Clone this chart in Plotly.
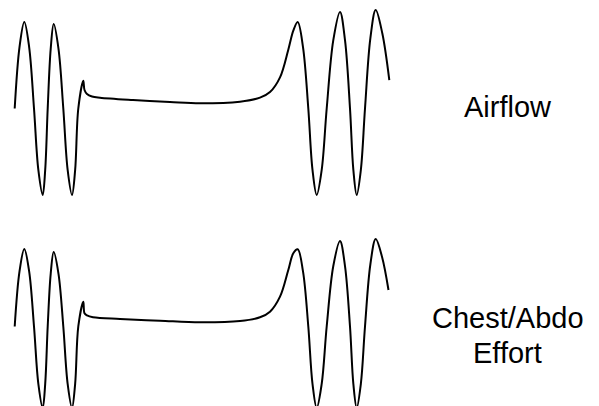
import plotly.graph_objects as go

# Time (s) and normalised signal amplitude
airflow_t = [1.47, 1.95, 2.43, 2.915, 3.4, 3.835, 4.27, 4.52, 4.77, 5.07, 5.37, 5.85, 6.33,
             6.765, 7.2, 7.515, 7.83, 8.33, 8.45, 8.7, 9.2, 10.0, 13.3, 17.0, 20.0, 24.0,
             26.0, 27.0, 28.0, 28.83, 29.33, 29.77, 30.3, 30.83, 31.25, 31.67,
             32.17, 32.67, 33.33, 34.0, 34.5, 35.0, 35.335, 35.67, 36.085, 36.5, 37.035,
             37.57, 38.23, 38.93]
airflow_v = [0.0, 0.71, 1.0, 0.71, 0.0, -0.71, -1.0, -0.71, 0.0, 0.69, 0.977, 0.69, 0.0,
             -0.71, -1.0, -0.71, 0.0, 0.321, 0.214, 0.168, 0.139, 0.125, 0.098, 0.075, 0.06,
             0.079, 0.125, 0.19, 0.36, 0.68, 0.9, 1.0, 0.71, 0.0, -0.71, -1.0,
             -0.71, 0.0, 0.79, 1.116, 0.79, 0.0, -0.71, -1.0, -0.71, 0.0, 0.81, 1.139,
             0.869, 0.329]

effort_t = [1.47, 1.95, 2.43, 2.915, 3.4, 3.835, 4.27, 4.52, 4.77, 5.07, 5.37, 5.85, 6.33,
            6.765, 7.2, 7.515, 7.83, 8.33, 8.45, 8.7, 9.3, 12.0, 16.0, 20.0, 24.0,
            26.0, 27.0, 28.0, 28.83, 29.33, 29.77, 30.3, 30.83, 31.25, 31.67,
            32.17, 32.67, 33.33, 34.0, 34.5, 35.0, 35.335, 35.67, 36.085, 36.5, 37.035,
            37.57, 38.2, 38.85]
effort_v = [0.0, 0.71, 1.0, 0.71, 0.0, -0.74, -1.05, -0.74, 0.0, 0.68, 0.961, 0.68, 0.0,
            -0.74, -1.05, -0.74, 0.0, 0.32, 0.17, 0.142, 0.119, 0.097, 0.075, 0.054, 0.071,
            0.119, 0.191, 0.385, 0.729, 0.945, 0.996, 0.71, 0.0, -0.74, -1.05,
            -0.74, 0.0, 0.78, 1.103, 0.78, 0.0, -0.74, -1.05, -0.74, 0.0, 0.8, 1.129,
            0.9, 0.471]

labels = ["Airflow", "Chest/Abdo", "Effort"]

fig = go.Figure()
line = dict(color="black", width=2, shape="spline", smoothing=1.0)
fig.add_trace(go.Scatter(x=airflow_t, y=airflow_v, mode="lines", line=line,
                         xaxis="x", yaxis="y", hoverinfo="skip"))
fig.add_trace(go.Scatter(x=effort_t, y=effort_v, mode="lines", line=line,
                         xaxis="x", yaxis="y2", hoverinfo="skip"))

hidden = dict(visible=False, showgrid=False, zeroline=False, fixedrange=True)
fig.update_layout(
    width=591, height=398,
    margin=dict(l=0, r=0, t=0, b=0),
    paper_bgcolor="white", plot_bgcolor="white",
    showlegend=False,
    xaxis=dict(range=[0.8, 59.9], **hidden),
    yaxis=dict(domain=[0.5101, 1], range=[-1.0925, 1.1618], **hidden),
    yaxis2=dict(domain=[0, 0.5101], range=[-1.0258, 1.5935], anchor="x", **hidden),
)

font = dict(family="Liberation Sans, Arial, sans-serif", size=29, color="black")
for text, yy in zip(labels, [0.7515, 0.2211, 0.1344]):
    fig.add_annotation(text=text, x=0.8452, y=yy, xref="paper", yref="paper",
                       xanchor="center", yanchor="middle", showarrow=False, font=font)

fig.write_html("out.html")
